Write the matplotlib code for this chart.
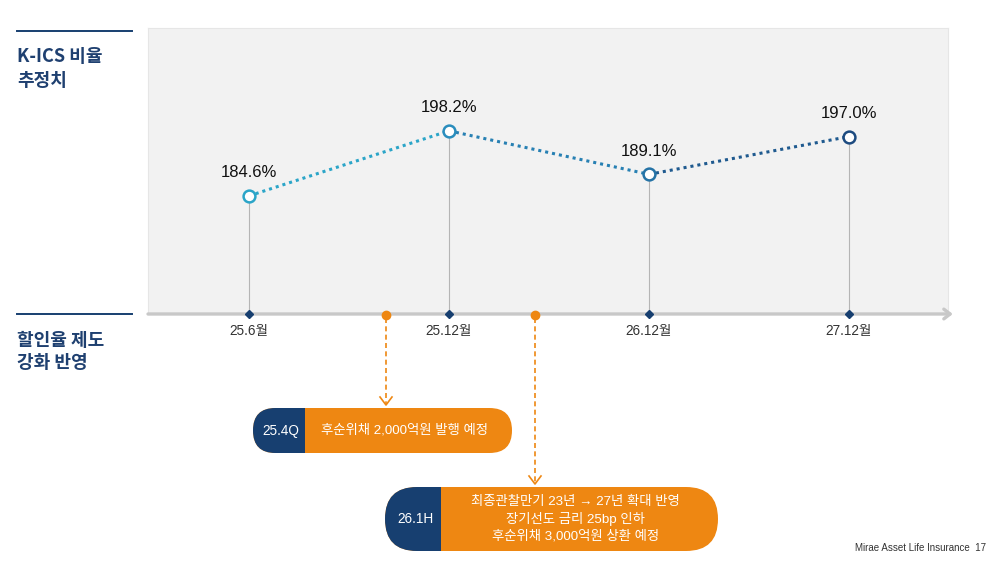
import matplotlib
matplotlib.use('Agg')
import matplotlib.pyplot as plt
from matplotlib.patches import FancyBboxPatch, Rectangle

plt.rcParams['font.family'] = ['Noto Sans CJK KR', 'DejaVu Sans']
MIXED = ['Liberation Sans', 'Noto Sans CJK KR', 'DejaVu Sans']

# chart data
periods = ['25.6월', '25.12월', '26.12월', '27.12월']
kics = [184.6, 198.2, 189.1, 197.0]
point_colors = ['#2ba5c8', '#2a8dbd', '#2573a6', '#1d4b80']
segment_colors = ['#2ba5c8', '#2780b3', '#1f5a8f']

event_tags = ['25.4Q', '26.1H']
event_notes = [['후순위채 2,000억원 발행 예정'],
               ['최종관찰만기 23년 → 27년 확대 반영', '장기선도 금리 25bp 인하', '후순위채 3,000억원 상환 예정']]

NAVY = '#173f70'
ORANGE = '#ee8712'

fig = plt.figure(figsize=(10, 5.7), dpi=100)
ax = fig.add_axes([0.148, 1 - 314 / 570, 0.8, 286 / 570], zorder=2)
ax.set_facecolor('#f2f2f2')
ax.set_xlim(-0.505, 3.495)
ax.set_ylim(159.9, 219.7)
for s in ['top', 'left', 'right']:
    ax.spines[s].set_color('#e6e6e6')
ax.spines['bottom'].set_visible(False)
ax.set_xticks([])
ax.set_yticks([])

# time axis with arrow
ax.annotate('', xy=(1.006, 0), xytext=(0, 0), xycoords='axes fraction',
            arrowprops=dict(arrowstyle='->,head_length=0.45,head_width=0.35', color='#c8c8c8',
                            lw=2.4, shrinkA=0, shrinkB=0), zorder=3)

xs = list(range(len(periods)))
ymin = ax.get_ylim()[0]
for i in range(len(xs) - 1):
    ax.plot(xs[i:i + 2], kics[i:i + 2], linestyle=(0, (1, 1.3)), lw=2.2, color=segment_colors[i], zorder=4)
for x, v, c, p in zip(xs, kics, point_colors, periods):
    ax.plot([x, x], [ymin, v], color='#b5b5b5', lw=0.8, zorder=3)
    ax.plot(x, v, 'o', ms=8.5, mfc='white', mec=c, mew=1.8, zorder=5)
    ax.plot(x, ymin, 'D', ms=4.5, color=NAVY, zorder=6, clip_on=False)
    ax.annotate(f'{v:.1f}%', (x, v), xytext=(0, 23), textcoords='offset pixels',
                ha='center', va='center', fontsize=12, color='#111111', family=MIXED)
    ax.annotate(p, (x, ymin), xytext=(0, -17), textcoords='offset pixels', family=MIXED,
                ha='center', va='center', fontsize=9.8, color='#333333', annotation_clip=False)

# decoration layer in pixel coordinates
deco = fig.add_axes([0, 0, 1, 1], zorder=3)
deco.set_xlim(0, 1000)
deco.set_ylim(570, 0)
deco.axis('off')
deco.patch.set_alpha(0)

# left headings
for y0, lines in [(31, ['K-ICS 비율', '추정치']), (314, ['할인율 제도', '강화 반영'])]:
    deco.plot([17, 132], [y0, y0], color=NAVY, lw=1.4)
    for k, t in enumerate(lines):
        deco.text(17, y0 + 26 + 23 * k, t, fontsize=13, fontweight='bold', color='#1f4070',
                  ha='left', va='center')

# event markers and callouts
event_x = [386, 535]
box_specs = [(253, 408, 512, 453, 305), (385, 487, 718, 551, 441)]
for ex, (x0, y0, x1, y1, split), tag, notes in zip(event_x, box_specs, event_tags, event_notes):
    deco.plot(ex, 315, 'o', ms=6, color=ORANGE, zorder=5)
    deco.plot([ex, ex], [318, y0 - 3], color=ORANGE, lw=1.2, ls=(0, (3, 2)))
    deco.plot([ex - 6, ex, ex + 6], [y0 - 11, y0 - 3, y0 - 11], color=ORANGE, lw=1.2)
    r = (y1 - y0) / 2
    body = FancyBboxPatch((x0, y0), x1 - x0, y1 - y0, boxstyle=f'round,pad=0,rounding_size={r}',
                          fc=ORANGE, ec='none')
    deco.add_patch(body)
    left = FancyBboxPatch((x0, y0), x1 - x0, y1 - y0, boxstyle=f'round,pad=0,rounding_size={r}',
                          fc=NAVY, ec='none')
    deco.add_patch(left)
    clip = Rectangle((x0, y0), split - x0, y1 - y0, transform=deco.transData)
    left.set_clip_path(clip)
    deco.text((x0 + split) / 2 + 2, (y0 + y1) / 2, tag, color='white', fontsize=9.8,
              ha='center', va='center', family=MIXED)
    cx = (split + x1) / 2 - 4
    n = len(notes)
    for k, t in enumerate(notes):
        cy = (y0 + y1) / 2 + (k - (n - 1) / 2) * 17.5
        deco.text(cx, cy, t, color='white', fontsize=9.6, ha='center', va='center', family=MIXED)

deco.text(986, 548, 'Mirae Asset Life Insurance  17', fontsize=7, color='#333333',
          ha='right', va='center', family=['Liberation Sans', 'DejaVu Sans'])

fig.savefig('out.png', dpi=100)
